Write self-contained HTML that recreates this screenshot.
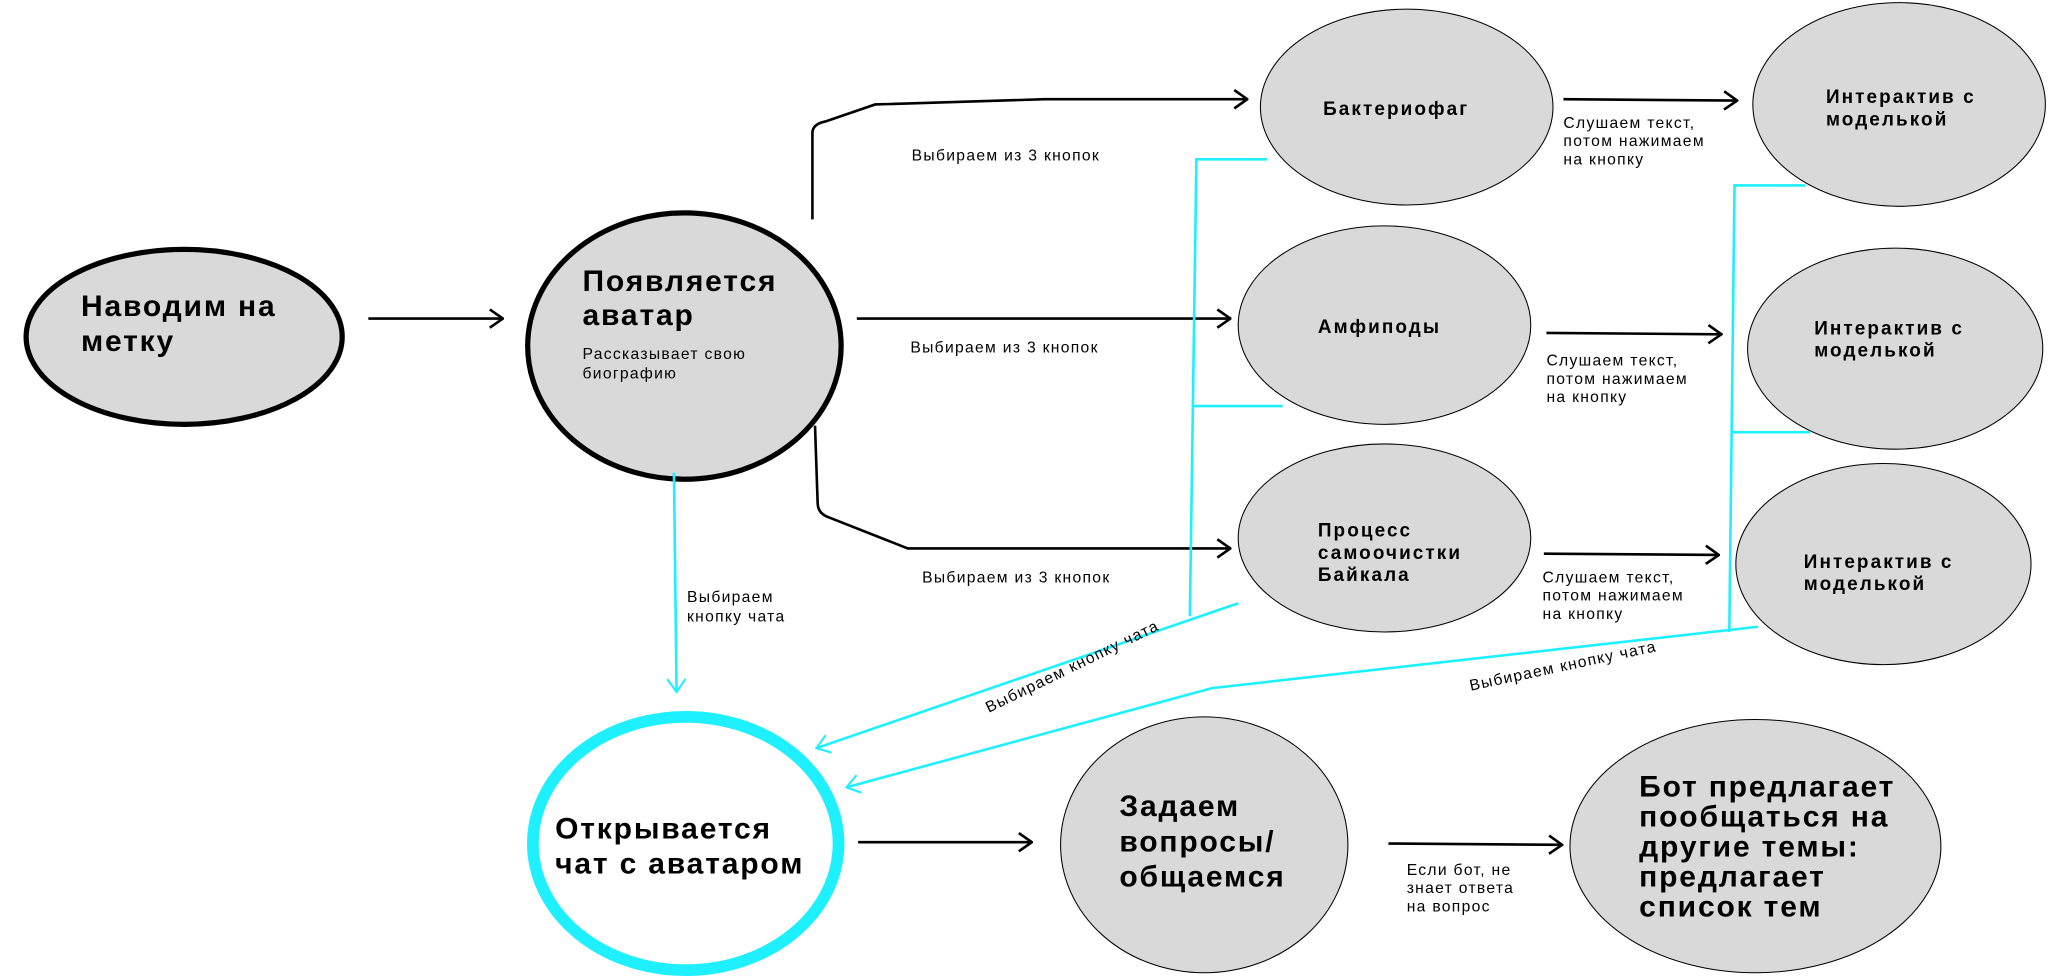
<!DOCTYPE html>
<html><head><meta charset="utf-8"><style>
html,body{margin:0;padding:0;background:#fff;width:2048px;height:978px;overflow:hidden}
svg{display:block}
text{font-family:"Liberation Sans","DejaVu Sans",sans-serif;fill:#000}
.t1{font-size:23px;font-weight:bold;letter-spacing:1.4px}
.t2{font-size:14.5px;font-weight:bold;letter-spacing:1.6px}
.s{font-size:12px;letter-spacing:1px}
</style></head><body>
<svg width="2048" height="978" viewBox="0 0 1568 749" preserveAspectRatio="none">
<defs>
<marker id="ab" markerWidth="12" markerHeight="16" refX="11" refY="8" orient="auto" markerUnits="userSpaceOnUse"><path d="M1,1 L11,8 L1,15" fill="none" stroke="#000" stroke-width="2"/></marker>
<marker id="ac" markerWidth="12" markerHeight="16" refX="11" refY="8" orient="auto" markerUnits="userSpaceOnUse"><path d="M1,1 L11,8 L1,15" fill="none" stroke="#1ff0ff" stroke-width="1.6"/></marker>
</defs>
<g fill="#d9d9d9" stroke="#000">
<ellipse cx="141" cy="258" rx="121" ry="67" stroke-width="4"/>
<ellipse cx="524" cy="265" rx="120" ry="102" stroke-width="4"/>
<ellipse cx="1077" cy="82" rx="112" ry="75" stroke-width="0.8"/>
<ellipse cx="1060" cy="249" rx="112" ry="76" stroke-width="0.8"/>
<ellipse cx="1060" cy="412" rx="112" ry="72" stroke-width="0.8"/>
<ellipse cx="1454" cy="80" rx="112" ry="78" stroke-width="0.8"/>
<ellipse cx="1451" cy="267" rx="113" ry="77" stroke-width="0.8"/>
<ellipse cx="1442" cy="432" rx="113" ry="77" stroke-width="0.8"/>
<ellipse cx="922" cy="647" rx="110" ry="98" stroke-width="0.8"/>
<ellipse cx="1344" cy="648" rx="142" ry="97" stroke-width="0.8"/>
</g>
<ellipse cx="525" cy="646" rx="117" ry="97" fill="#fff" stroke="#1ff0ff" stroke-width="9"/>
<g fill="none" stroke="#000" stroke-width="2">
<line x1="282" y1="244" x2="385" y2="244" marker-end="url(#ab)"/>
<path d="M622,168 L622,102 Q622,95 632,93 L670,80 L800,76 L955,76" marker-end="url(#ab)"/>
<line x1="656" y1="244" x2="942" y2="244" marker-end="url(#ab)"/>
<path d="M624,326 L626,385 Q626,393 634,396 L695,420 L942,420" marker-end="url(#ab)"/>
<line x1="1197" y1="76" x2="1330" y2="77" marker-end="url(#ab)"/>
<line x1="1184" y1="255" x2="1318" y2="256" marker-end="url(#ab)"/>
<line x1="1182" y1="424" x2="1316" y2="425" marker-end="url(#ab)"/>
<line x1="657" y1="645" x2="790" y2="645" marker-end="url(#ab)"/>
<line x1="1063" y1="646" x2="1196" y2="647" marker-end="url(#ab)"/>
</g>
<g fill="none" stroke="#1ff0ff" stroke-width="2">
<line x1="516" y1="362" x2="518" y2="530" marker-end="url(#ac)"/>
<path d="M970,122 L916,122 L911,472"/>
<line x1="913" y1="311" x2="982" y2="311"/>
<line x1="948" y1="462" x2="625" y2="573" marker-end="url(#ac)"/>
<path d="M1382,142 L1328,142 L1324,484"/>
<line x1="1326" y1="331" x2="1386" y2="331"/>
<path d="M1346,480 L928,527 L648,603" marker-end="url(#ac)"/>
</g>
<text class="t1" x="62" y="242">Наводим на</text>
<text class="t1" x="62" y="269">метку</text>
<text class="t1" x="446" y="223">Появляется</text>
<text class="t1" x="446" y="249">аватар</text>
<text class="s" x="446" y="275">Рассказывает свою</text>
<text class="s" x="446" y="290">биографию</text>
<text class="t2" x="1013" y="88">Бактериофаг</text>
<text class="t2" x="1009" y="255">Амфиподы</text>
<text class="t2" x="1009" y="411">Процесс</text>
<text class="t2" x="1009" y="428">самоочистки</text>
<text class="t2" x="1009" y="445">Байкала</text>
<text class="t2" x="1398" y="79">Интерактив с</text>
<text class="t2" x="1398" y="96">моделькой</text>
<text class="t2" x="1389" y="256">Интерактив с</text>
<text class="t2" x="1389" y="273">моделькой</text>
<text class="t2" x="1381" y="435">Интерактив с</text>
<text class="t2" x="1381" y="452">моделькой</text>
<text class="t1" x="425" y="642">Открывается</text>
<text class="t1" x="425" y="669">чат с аватаром</text>
<text class="t1" x="857" y="625">Задаем</text>
<text class="t1" x="857" y="652">вопросы/</text>
<text class="t1" x="857" y="679">общаемся</text>
<text class="t1" x="1255" y="610">Бот предлагает</text>
<text class="t1" x="1255" y="633">пообщаться на</text>
<text class="t1" x="1255" y="656">другие темы:</text>
<text class="t1" x="1255" y="679">предлагает</text>
<text class="t1" x="1255" y="702">список тем</text>
<text class="s" x="698" y="123">Выбираем из 3 кнопок</text>
<text class="s" x="697" y="270">Выбираем из 3 кнопок</text>
<text class="s" x="706" y="446">Выбираем из 3 кнопок</text>
<text class="s" x="1197" y="98">Слушаем текст,</text>
<text class="s" x="1197" y="112">потом нажимаем</text>
<text class="s" x="1197" y="126">на кнопку</text>
<text class="s" x="1184" y="280">Слушаем текст,</text>
<text class="s" x="1184" y="294">потом нажимаем</text>
<text class="s" x="1184" y="308">на кнопку</text>
<text class="s" x="1181" y="446">Слушаем текст,</text>
<text class="s" x="1181" y="460">потом нажимаем</text>
<text class="s" x="1181" y="474">на кнопку</text>
<text class="s" x="526" y="461">Выбираем</text>
<text class="s" x="526" y="476">кнопку чата</text>
<text class="s" x="1077" y="670">Если бот, не</text>
<text class="s" x="1077" y="684">знает ответа</text>
<text class="s" x="1077" y="698">на вопрос</text>
<text class="s" transform="translate(757,546) rotate(-26)">Выбираем кнопку чата</text>
<text class="s" transform="translate(1126,529) rotate(-12)">Выбираем кнопку чата</text>
</svg>
</body></html>
